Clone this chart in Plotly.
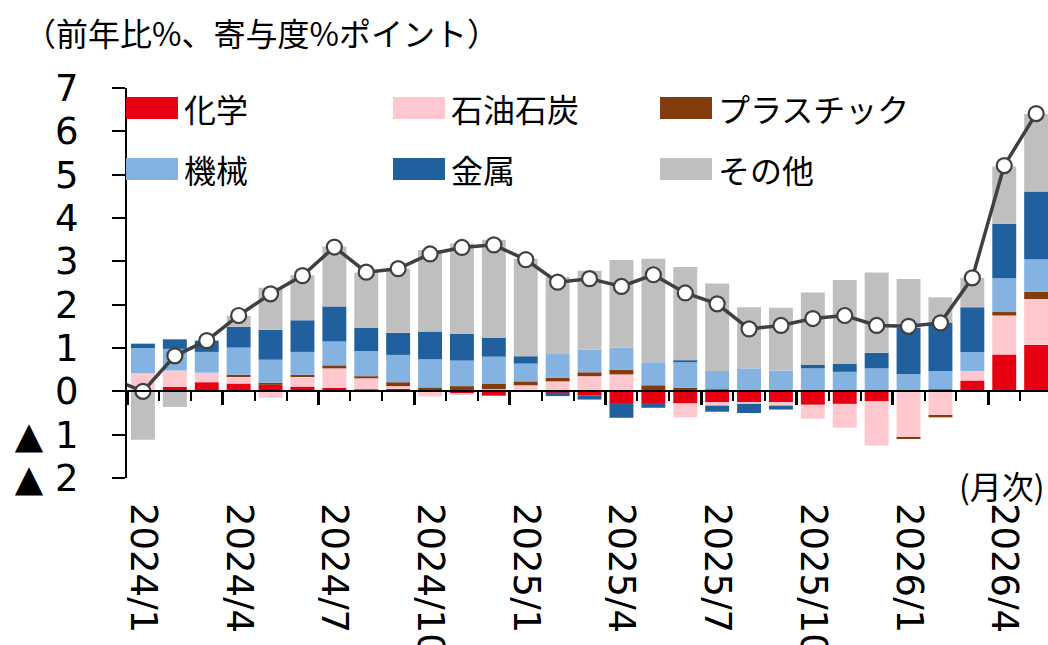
import plotly.graph_objects as go

# ---------------- data ----------------
months = ["2024/1", "2024/2", "2024/3", "2024/4", "2024/5", "2024/6", "2024/7", "2024/8",
          "2024/9", "2024/10", "2024/11", "2024/12", "2025/1", "2025/2", "2025/3", "2025/4",
          "2025/5", "2025/6", "2025/7", "2025/8", "2025/9", "2025/10", "2025/11", "2025/12",
          "2026/1", "2026/2", "2026/3", "2026/4", "2026/5"]
prev_month = "2023/12"
tick_labels = ["2024/1", "2024/4", "2024/7", "2024/10", "2025/1", "2025/4", "2025/7",
               "2025/10", "2026/1", "2026/4"]

chemical = [0.00, 0.10, 0.21, 0.18, 0.15, 0.11, 0.08, 0.05, 0.06, 0.00, -0.05, -0.10, 0.00,
            -0.03, -0.10, -0.29, -0.29, -0.28, -0.25, -0.25, -0.25, -0.31, -0.29, -0.23,
            0.00, 0.05, 0.25, 0.85, 1.07]
petroleum = [0.42, 0.38, 0.22, 0.16, -0.15, 0.22, 0.45, 0.25, 0.06, -0.12, -0.02, 0.05, 0.14,
             0.23, 0.35, 0.39, 0.00, -0.32, -0.08, -0.04, -0.08, -0.32, -0.55, -1.02,
             -1.06, -0.56, 0.22, 0.90, 1.06]
plastic = [0.00, 0.00, 0.00, 0.04, 0.05, 0.05, 0.07, 0.05, 0.09, 0.09, 0.12, 0.13, 0.09,
           0.08, 0.09, 0.11, 0.14, 0.08, 0.05, 0.00, 0.00, 0.00, 0.00, 0.00,
           -0.04, -0.04, 0.00, 0.08, 0.17]
machinery = [0.58, 0.50, 0.48, 0.63, 0.53, 0.53, 0.55, 0.58, 0.63, 0.65, 0.59, 0.62, 0.41,
             0.55, 0.52, 0.51, 0.53, 0.59, 0.42, 0.53, 0.48, 0.53, 0.45, 0.53,
             0.40, 0.42, 0.44, 0.78, 0.75]
metal = [0.10, 0.22, 0.26, 0.48, 0.69, 0.73, 0.81, 0.54, 0.51, 0.64, 0.62, 0.44, 0.17,
         -0.08, -0.09, -0.32, -0.09, 0.05, -0.14, -0.21, -0.09, 0.08, 0.18, 0.36,
         1.06, 1.12, 1.03, 1.26, 1.56]
other = [-1.12, -0.36, 0.00, 0.25, 0.97, 1.04, 1.38, 1.27, 1.48, 1.88, 2.08, 2.26, 2.25,
         1.78, 1.82, 2.02, 2.39, 2.15, 2.02, 1.41, 1.45, 1.67, 1.94, 1.85,
         1.13, 0.58, 0.68, 1.32, 1.79]
total_prev = 0.30
total = [0.00, 0.82, 1.17, 1.75, 2.25, 2.67, 3.33, 2.75, 2.83, 3.17, 3.32, 3.38, 3.04,
         2.52, 2.60, 2.42, 2.69, 2.27, 2.02, 1.44, 1.52, 1.68, 1.75, 1.52,
         1.50, 1.58, 2.62, 5.21, 6.41]

series_names = ["化学", "石油石炭", "プラスチック", "機械", "金属", "その他"]
series_values = [chemical, petroleum, plastic, machinery, metal, other]
series_colors = ["#E60012", "#FFC7CE", "#843C0C", "#84B3E2", "#21609E", "#BFBFBF"]

y_ticks = [-2, -1, 0, 1, 2, 3, 4, 5, 6, 7]
y_ticktext = ["▲ 2", "▲ 1", "0", "1", "2", "3", "4", "5", "6", "7"]

title_text = "（前年比%、寄与度%ポイント）"
xunit_text = "(月次)"

# ---------------- layout constants ----------------
W, H = 1048, 645
ML, MR, MT, MB = 127, 0, 88, 167
PW, PH = W - ML - MR, H - MT - MB
CJK = "Noto Sans CJK JP"
NUM = "DejaVu Sans"


def px(xp):
    return (xp - ML) / PW


def py(yp):
    return (H - MB - yp) / PH


all_months = [prev_month] + months
n_all = len(all_months)
x_range = [0.5, 0.5 + PW / 31.9]

fig = go.Figure()

for name, vals, col in zip(series_names, series_values, series_colors):
    fig.add_trace(go.Bar(x=months, y=vals, name=name, marker_color=col,
                         marker_line_width=0, showlegend=False))

fig.add_trace(go.Scatter(x=all_months, y=[total_prev] + total, mode="lines+markers",
                         line=dict(color="#404040", width=3.5),
                         marker=dict(size=15, color="white",
                                     line=dict(color="#404040", width=2.2)),
                         showlegend=False))

# helper trace so the zero-line axis (x2) is drawn
fig.add_trace(go.Scatter(x=[None], y=[None], xaxis="x2", yaxis="y",
                         showlegend=False, hoverinfo="skip"))

boundaries = [i + 0.5 for i in range(n_all - 1)]
quarter_bounds = [i + 0.5 for i in range(n_all - 1)
                  if all_months[i + 1].endswith(("/1", "/4", "/7", "/10"))]

fig.update_layout(
    template="none",
    width=W, height=H,
    margin=dict(l=ML, r=MR, t=MT, b=MB, pad=0, autoexpand=False),
    paper_bgcolor="white", plot_bgcolor="white",
    barmode="relative", bargap=0.25,
    font=dict(family=CJK, color="black"),
    xaxis=dict(type="category", categoryorder="array", categoryarray=all_months,
               range=x_range, showline=False, showgrid=False, zeroline=False,
               automargin=False,
               ticks="", tickmode="array", tickvals=tick_labels, ticktext=tick_labels,
               tickangle=90, tickfont=dict(family=NUM, size=37, color="black"),
               ticklabelstandoff=24),
    xaxis2=dict(overlaying="x", anchor="free", position=2 / 9, type="linear",
                range=x_range, showline=True, linecolor="black", linewidth=2,
                showgrid=False, zeroline=False, showticklabels=False, automargin=False,
                tickmode="array", tickvals=quarter_bounds, ticks="outside",
                ticklen=13, tickwidth=3, tickcolor="black",
                minor=dict(tickmode="array", tickvals=boundaries, ticks="outside",
                           ticklen=9, tickwidth=2, tickcolor="black", showgrid=False)),
    yaxis=dict(range=[-2, 7], tickmode="array", tickvals=y_ticks, ticktext=y_ticktext,
               showline=True, linecolor="black", linewidth=2, ticks="outside",
               ticklen=13, tickwidth=2, tickcolor="black", showgrid=False,
               zeroline=False, automargin=False,
               tickfont=dict(family=NUM, size=37, color="black"),
               ticklabelstandoff=26),
)

# custom legend (3 columns x 2 rows) built from the series lists
shapes, annots = [], []
for i, (name, col) in enumerate(zip(series_names, series_colors)):
    r, c = divmod(i, 3)
    x0 = 126 + c * 267
    yc = 108 + r * 61
    shapes.append(dict(type="rect", xref="paper", yref="paper",
                       x0=px(x0), x1=px(x0 + 52), y0=py(yc + 11), y1=py(yc - 11),
                       fillcolor=col, line=dict(width=0), layer="above"))
    annots.append(dict(text=name, xref="paper", yref="paper", x=px(x0 + 56), y=py(yc),
                       xanchor="left", yanchor="middle", showarrow=False,
                       font=dict(family=CJK, size=32, color="black")))

annots.append(dict(text=title_text, xref="paper", yref="paper", x=px(22), y=py(32),
                   xanchor="left", yanchor="middle", showarrow=False,
                   font=dict(family=CJK, size=32, color="black")))
annots.append(dict(text=xunit_text, xref="paper", yref="paper", x=px(1047), y=py(485),
                   xanchor="right", yanchor="middle", showarrow=False,
                   font=dict(family=CJK, size=32, color="black")))

fig.update_layout(shapes=shapes, annotations=annots)

fig.write_html("out.html")
